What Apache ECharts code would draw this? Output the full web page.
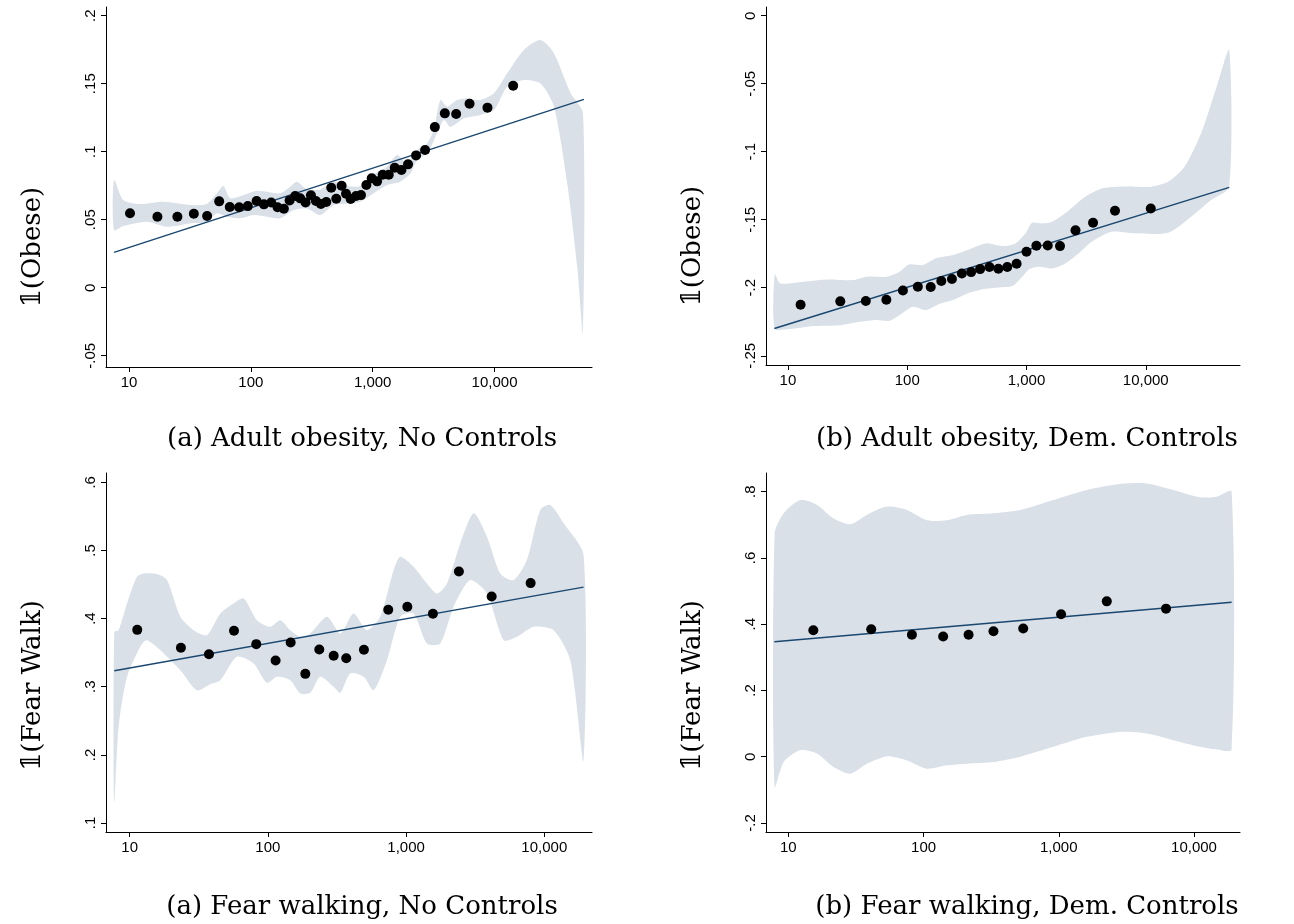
<!DOCTYPE html>
<html>
<head>
<meta charset="utf-8">
<script src="https://cdn.jsdelivr.net/npm/echarts@6/dist/echarts.min.js"></script>
<style>html,body{margin:0;padding:0;background:#fff}</style>
</head>
<body>
<div id="main" style="width:1294px;height:924px;"></div>
<script type="text/javascript">
// x values are log10 of population density; y values in outcome units
// panel 1: adult obesity, no controls
var obeseRawX = [1.008,1.233,1.397,1.532,1.641,1.740,1.827,1.904,1.975,2.047,2.107,2.167,2.219,2.271,2.318,2.364,2.405,2.449,2.493,2.534,2.575,2.619,2.660,2.701,2.745,2.781,2.819,2.863,2.904,2.948,2.992,3.036,3.082,3.132,3.181,3.236,3.290,3.356,3.430,3.510,3.592,3.685,3.795,3.942,4.153];
var obeseRawY = [.0547,.0522,.0522,.0544,.0527,.0635,.0593,.0591,.0600,.0637,.0613,.0627,.0591,.0581,.0642,.0674,.0657,.0627,.0679,.0637,.0615,.0630,.0735,.0654,.0750,.0691,.0652,.0674,.0681,.0755,.0804,.0782,.0831,.0831,.0882,.0865,.0907,.0973,.1012,.1181,.1282,.1277,.1353,.1324,.1485];
var obeseRawFit = [[0.877,.0260],[4.734,.1385]];
var obeseRawUpper = [[0.877,.0792],[0.953,.0645],[1.090,.0615],[1.282,.0632],[1.501,.0608],[1.638,.0615],[1.721,.0694],[1.775,.0748],[1.830,.0657],[1.940,.0681],[2.049,.0713],[2.132,.0706],[2.241,.0694],[2.323,.0743],[2.378,.0779],[2.460,.0723],[2.570,.0723],[2.679,.0779],[2.789,.0748],[2.899,.0748],[2.981,.0821],[3.118,.0890],[3.200,.0975],[3.282,.0914],[3.364,.1012],[3.447,.1061],[3.501,.1159],[3.556,.1380],[3.611,.1331],[3.693,.1380],[3.775,.1392],[3.885,.1380],[3.995,.1429],[4.104,.1576],[4.241,.1748],[4.378,.1821],[4.488,.1723],[4.625,.1429],[4.726,.1282]];
var obeseRawLower = [[0.877,.0424],[0.953,.0453],[1.145,.0485],[1.310,.0449],[1.501,.0473],[1.638,.0485],[1.721,.0547],[1.803,.0522],[1.912,.0510],[2.022,.0534],[2.132,.0522],[2.241,.0510],[2.351,.0571],[2.460,.0583],[2.570,.0534],[2.679,.0608],[2.789,.0620],[2.899,.0632],[3.008,.0694],[3.118,.0755],[3.227,.0779],[3.310,.0841],[3.364,.0939],[3.447,.0988],[3.529,.1135],[3.584,.1233],[3.638,.1184],[3.748,.1245],[3.885,.1270],[3.995,.1306],[4.104,.1478],[4.241,.1527],[4.378,.1502],[4.488,.1331],[4.597,.0767],[4.679,.0154],[4.726,-.0336]];

// panel 2: adult obesity, demographic controls
var obeseDemX = [1.106,1.439,1.653,1.825,1.964,2.089,2.197,2.286,2.375,2.458,2.536,2.611,2.689,2.764,2.839,2.917,3.000,3.083,3.178,3.281,3.411,3.558,3.742,4.042];
var obeseDemY = [-.2125,-.2100,-.2098,-.2088,-.2020,-.1993,-.1995,-.1951,-.1936,-.1895,-.1885,-.1863,-.1848,-.1860,-.1848,-.1824,-.1735,-.1691,-.1689,-.1694,-.1578,-.1522,-.1434,-.1417];
var obeseDemFit = [[0.886,-.2299],[4.700,-.1262]];
var obeseDemUpper = [[.889,-.1900],[.936,-.1968],[1.131,-.1956],[1.325,-.1939],[1.547,-.1944],[1.658,-.1919],[1.825,-.1919],[1.936,-.1882],[2.019,-.1828],[2.131,-.1833],[2.242,-.1784],[2.381,-.1760],[2.519,-.1718],[2.658,-.1674],[2.797,-.1694],[2.908,-.1674],[2.992,-.1600],[3.047,-.1522],[3.131,-.1527],[3.214,-.1515],[3.325,-.1453],[3.492,-.1331],[3.631,-.1270],[3.769,-.1257],[3.908,-.1257],[4.047,-.1257],[4.186,-.1221],[4.325,-.1110],[4.464,-.0865],[4.603,-.0498],[4.700,-.0252]];
var obeseDemLower = [[.889,-.2299],[.992,-.2306],[1.214,-.2282],[1.436,-.2275],[1.603,-.2250],[1.742,-.2238],[1.853,-.2243],[1.936,-.2201],[2.047,-.2140],[2.158,-.2164],[2.269,-.2120],[2.381,-.2091],[2.492,-.2047],[2.631,-.2012],[2.769,-.1998],[2.881,-.1988],[2.964,-.1919],[3.019,-.1865],[3.103,-.1846],[3.214,-.1858],[3.325,-.1821],[3.436,-.1748],[3.547,-.1662],[3.714,-.1588],[3.908,-.1600],[4.186,-.1596],[4.381,-.1478],[4.547,-.1355],[4.700,-.1257]];

// panel 3: fear walking, no controls
var fearRawX = [1.055,1.371,1.574,1.755,1.916,2.056,2.165,2.271,2.372,2.476,2.567,2.695,2.871,3.009,3.194,3.382,3.619,3.901];
var fearRawY = [.3835,.3571,.3478,.3821,.3625,.3385,.3649,.3189,.3547,.3454,.3419,.3542,.4129,.4173,.4071,.4692,.4325,.4521];
var fearRawFit = [[0.889,.3233],[4.284,.4462]];
var fearRawUpper = [[.889,.3806],[.920,.3830],[.981,.4222],[1.053,.4614],[1.101,.4663],[1.198,.4653],[1.270,.4565],[1.367,.4026],[1.463,.3830],[1.559,.3757],[1.656,.4075],[1.752,.4222],[1.825,.4296],[1.921,.3977],[2.018,.3880],[2.090,.3977],[2.162,.3830],[2.235,.3733],[2.307,.3782],[2.428,.4026],[2.524,.3782],[2.620,.4075],[2.717,.3830],[2.813,.4026],[2.910,.4712],[2.958,.4908],[3.054,.4761],[3.151,.4516],[3.223,.4369],[3.296,.4516],[3.392,.5104],[3.489,.5545],[3.585,.5202],[3.681,.4663],[3.778,.4565],[3.874,.4859],[3.971,.5594],[4.043,.5667],[4.140,.5398],[4.284,.4932]];
var fearRawLower = [[.889,.1308],[.920,.2410],[.981,.3145],[1.077,.3586],[1.125,.3684],[1.222,.3537],[1.367,.3243],[1.487,.2949],[1.584,.3037],[1.656,.3096],[1.776,.3439],[1.897,.3341],[1.993,.3057],[2.066,.3145],[2.162,.3096],[2.235,.2900],[2.307,.2910],[2.379,.3145],[2.476,.2998],[2.524,.2910],[2.596,.3194],[2.693,.3145],[2.765,.2949],[2.862,.3390],[2.958,.4026],[3.054,.4075],[3.151,.3635],[3.247,.3635],[3.344,.4173],[3.464,.4565],[3.585,.4369],[3.706,.3684],[3.802,.3733],[3.923,.3880],[4.067,.3830],[4.188,.3390],[4.284,.1921]];

// panel 4: fear walking, demographic controls
var fearDemX = [1.185,1.613,1.914,2.145,2.333,2.517,2.737,3.017,3.355,3.793];
var fearDemY = [.382,.385,.368,.363,.368,.379,.387,.430,.469,.447];
var fearDemFit = [[0.897,.347],[4.278,.466]];
var fearDemUpper = [[.899,.674],[.966,.735],[1.089,.775],[1.212,.760],[1.335,.719],[1.458,.702],[1.581,.730],[1.729,.755],[1.877,.745],[2.025,.714],[2.172,.714],[2.320,.730],[2.517,.735],[2.714,.745],[2.961,.775],[3.207,.805],[3.453,.823],[3.650,.825],[3.847,.805],[4.044,.783],[4.167,.785],[4.278,.800]];
var fearDemLower = [[.899,-.091],[.966,-.016],[1.089,.020],[1.212,.010],[1.335,-.031],[1.458,-.051],[1.581,-.021],[1.729,.001],[1.877,-.011],[2.025,-.036],[2.172,-.026],[2.320,-.021],[2.517,-.016],[2.714,.000],[2.961,.030],[3.207,.060],[3.453,.075],[3.650,.070],[3.847,.050],[4.044,.030],[4.167,.022],[4.278,.022]];

var xTicks = [1, 2, 3, 4];
var yTicks1 = [-.05, 0, .05, .1, .15, .2];
var yTicks2 = [-.25, -.2, -.15, -.1, -.05, 0];
var yTicks3 = [.1, .2, .3, .4, .5, .6];
var yTicks4 = [-.2, 0, .2, .4, .6, .8];
var captions = ['(a) Adult obesity, No Controls', '(b) Adult obesity, Dem. Controls', '(a) Fear walking, No Controls', '(b) Fear walking, Dem. Controls'];
var yTitles = ['\u{1D7D9}(Obese)', '\u{1D7D9}(Obese)', '\u{1D7D9}(Fear Walk)', '\u{1D7D9}(Fear Walk)'];

var panels = [
  {x: obeseRawX, y: obeseRawY, fit: obeseRawFit, up: obeseRawUpper, lo: obeseRawLower, ticks: yTicks1, xr: [0.811, 4.80], yr: [-0.0583, 0.2064],
   grid: {left: 106, top: 7, width: 486, height: 360}, cap: [357, 421], namePad: 120},
  {x: obeseDemX, y: obeseDemY, fit: obeseDemFit, up: obeseDemUpper, lo: obeseDemLower, ticks: yTicks2, xr: [0.816, 4.79], yr: [-0.2568, 0.0064],
   grid: {left: 766, top: 7, width: 474, height: 358}, cap: [1022, 421], namePad: 120},
  {x: fearRawX, y: fearRawY, fit: fearRawFit, up: fearRawUpper, lo: fearRawLower, ticks: yTicks3, xr: [0.829, 4.345], yr: [0.0868, 0.6137],
   grid: {left: 106, top: 473, width: 486, height: 359}, cap: [357, 889], namePad: 66},
  {x: fearDemX, y: fearDemY, fit: fearDemFit, up: fearDemUpper, lo: fearDemLower, ticks: yTicks4, xr: [0.835, 4.34], yr: [-0.2272, 0.8565],
   grid: {left: 766, top: 473, width: 474, height: 359}, cap: [1022, 889], namePad: 66}
];

function yLabel(v) {
  var s = String(Math.round(v * 1000) / 1000);
  return s.replace(/^0\./, '.').replace(/^-0\./, '-.');
}
function xLabel(v) {
  return Math.round(Math.pow(10, v)).toLocaleString('en-US');
}

var serif = "'DejaVu Serif',serif";
var option = {backgroundColor: '#fff', animation: false, grid: [], xAxis: [], yAxis: [], series: [], title: []};

panels.forEach(function (p, i) {
  option.grid.push(p.grid);
  option.xAxis.push({
    type: 'value', gridIndex: i, min: p.xr[0], max: p.xr[1],
    splitLine: {show: false},
    axisLine: {onZero: false, lineStyle: {color: '#000', width: 1}},
    axisTick: {customValues: xTicks, length: 5, lineStyle: {color: '#000'}},
    axisLabel: {customValues: xTicks, formatter: xLabel, color: '#000', fontSize: 15, fontFamily: 'Liberation Sans', margin: 8}
  });
  option.yAxis.push({
    type: 'value', gridIndex: i, min: p.yr[0], max: p.yr[1],
    name: yTitles[i], nameLocation: 'middle', nameRotate: 90, nameGap: 60,
    nameTextStyle: {fontFamily: serif, fontSize: 26, color: '#000', padding: [0, p.namePad, 0, 0]},
    splitLine: {show: false},
    axisLine: {lineStyle: {color: '#000', width: 1}},
    axisTick: {customValues: p.ticks, length: 5, lineStyle: {color: '#000'}},
    axisLabel: {customValues: p.ticks, formatter: yLabel, rotate: 90, color: '#000', fontSize: 15, fontFamily: 'Liberation Sans', margin: 8}
  });
  option.series.push({
    type: 'custom', xAxisIndex: i, yAxisIndex: i, data: [[p.xr[0], p.yr[0]]], z: 1, silent: true,
    renderItem: (function (pp) {
      return function (params, api) {
        var pts = [];
        pp.up.forEach(function (d) { pts.push(api.coord(d)); });
        pp.lo.slice().reverse().forEach(function (d) { pts.push(api.coord(d)); });
        return {type: 'polygon', shape: {points: pts, smooth: 0.25}, style: {fill: '#d9e0e8', stroke: null}};
      };
    })(p)
  });
  option.series.push({
    type: 'line', xAxisIndex: i, yAxisIndex: i, data: p.fit, symbol: 'none', z: 2,
    lineStyle: {color: '#1a476f', width: 1.5}
  });
  option.series.push({
    type: 'scatter', xAxisIndex: i, yAxisIndex: i, z: 3, symbolSize: 10,
    data: p.x.map(function (v, k) { return [v, p.y[k]]; }),
    itemStyle: {color: '#000', opacity: 1}
  });
  option.title.push({
    text: captions[i], left: p.cap[0], top: p.cap[1], textAlign: 'center',
    textStyle: {fontFamily: serif, fontSize: 26, fontWeight: 'normal', color: '#000'}
  });
});

var myChart = echarts.init(document.getElementById('main'));
myChart.setOption(option);
</script>
</body>
</html>
